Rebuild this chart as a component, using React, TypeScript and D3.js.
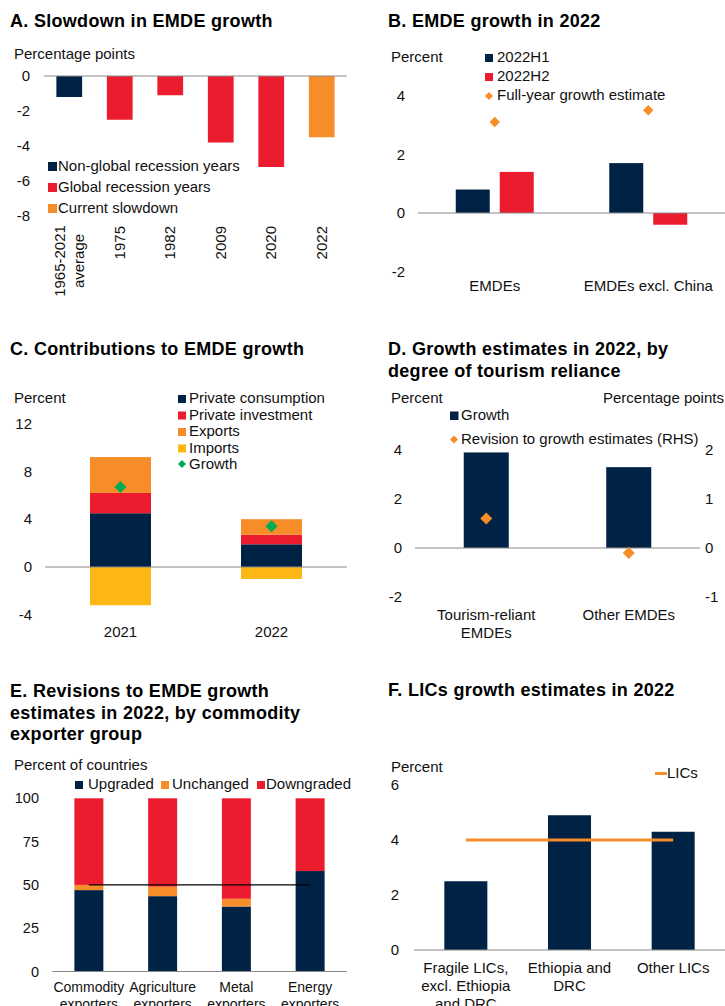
import React from "react";
import * as d3 from "d3";

// colours
const NAVY = "#002345";
const RED = "#EB1C2D";
const ORANGE = "#F78D28";
const YELLOW = "#FDB714";
const GREEN = "#00AB51";
const AXIS = "#8A8A8A";
const FONT = "Arial, 'Liberation Sans', sans-serif";

// A. Slowdown in EMDE growth
const aCategories = ["1965-2021\naverage", "1975", "1982", "2009", "2020", "2022"];
const aValues = [-1.2, -2.5, -1.1, -3.8, -5.2, -3.5];
const aGroup = [0, 1, 1, 1, 1, 2];
const aLegend = ["Non-global recession years", "Global recession years", "Current slowdown"];
const aTicks = [0, -2, -4, -6, -8];

// B. EMDE growth in 2022
const bCategories = ["EMDEs", "EMDEs excl. China"];
const bH1 = [0.8, 1.7];
const bH2 = [1.4, -0.4];
const bFullYear = [3.1, 3.5];
const bTicks = [4, 2, 0, -2];

// C. Contributions to EMDE growth
const cYears = ["2021", "2022"];
const cConsumption = [4.5, 1.9];
const cInvestment = [1.7, 0.8];
const cExports = [3.0, 1.3];
const cImports = [-3.2, -1.0];
const cGrowth = [6.7, 3.4];
const cTicks = [12, 8, 4, 0, -4];

// D. Growth estimates by tourism reliance
const dCategories = ["Tourism-reliant\nEMDEs", "Other EMDEs"];
const dGrowth = [3.9, 3.3];
const dRevision = [0.6, -0.1];
const dTicksLeft = [4, 2, 0, -2];
const dTicksRight = [2, 1, 0, -1];

// E. Revisions by commodity exporter group
const eCategories = ["Commodity\nexporters", "Agriculture\nexporters", "Metal\nexporters", "Energy\nexporters"];
const eUpgraded = [47, 43.5, 37.5, 58];
const eUnchanged = [3, 5.5, 4.5, 0];
const eDowngraded = [50, 51, 58, 42];
const eReference = [50, 50, 50, 50];
const eTicks = [100, 75, 50, 25, 0];

// F. LICs growth estimates
const fCategories = ["Fragile LICs,\nexcl. Ethiopia\nand DRC", "Ethiopia and\nDRC", "Other LICs"];
const fValues = [2.5, 4.9, 4.3];
const fLICs = [4.0, 4.0, 4.0];
const fTicks = [6, 4, 2, 0];

const diamondPath = (r: number) => `M0,${-r}L${r},0L0,${r}L${-r},0Z`;

function Title({ x, y, lines }: { x: number; y: number; lines: string[] }) {
  return (
    <text x={x} y={y} fontSize={18} fontWeight="bold" letterSpacing={0.3} fill="#000">
      {lines.map((l, i) => (
        <tspan key={i} x={x} dy={i === 0 ? 0 : 21.5}>
          {l}
        </tspan>
      ))}
    </text>
  );
}

function Label({ x, y, text, anchor = "middle", step = 18, size = 15 }: any) {
  const lines = String(text).split("\n");
  return (
    <text x={x} y={y} fontSize={size} textAnchor={anchor} fill="#111">
      {lines.map((l, i) => (
        <tspan key={i} x={x} dy={i === 0 ? 0 : step}>
          {l}
        </tspan>
      ))}
    </text>
  );
}

function YTicks({ ticks, scale, x, anchor = "end", size = 15 }: any) {
  return (
    <g>
      {ticks.map((t: number) => (
        <text key={t} x={x} y={scale(t)} dy="0.35em" fontSize={size} textAnchor={anchor} fill="#111">
          {String(t)}
        </text>
      ))}
    </g>
  );
}

function PanelA() {
  const x = d3.scaleBand<string>().domain(aCategories).range([44, 347]).paddingInner(0.49).paddingOuter(0.245);
  const y = d3.scaleLinear().domain([-8, 0]).range([216, 76]);
  const colors = [NAVY, RED, ORANGE];
  return (
    <g>
      <Title x={10} y={27} lines={["A. Slowdown in EMDE growth"]} />
      <Label x={14} y={59} text="Percentage points" anchor="start" />
      <YTicks ticks={aTicks} scale={y} x={30} />
      {aCategories.map((c, i) => (
        <rect key={c} x={x(c)} width={x.bandwidth()} y={y(0)} height={y(aValues[i]) - y(0)} fill={colors[aGroup[i]]} />
      ))}
      <line x1={44} x2={347} y1={y(0)} y2={y(0)} stroke={AXIS} strokeWidth={1.2} />
      {aLegend.map((l, i) => (
        <g key={l}>
          <rect x={48} y={162 + i * 21} width={9} height={9} fill={colors[i]} />
          <text x={58} y={171 + i * 21} fontSize={15} fill="#111">
            {l}
          </text>
        </g>
      ))}
      {aCategories.map((c) => {
        const lines = c.split("\n");
        const cx = (x(c) as number) + x.bandwidth() / 2;
        if (lines.length === 1)
          return (
            <text key={c} transform={`translate(${cx + 5},226) rotate(-90)`} textAnchor="end" fontSize={15} fill="#111">
              {c}
            </text>
          );
        return (
          <text key={c} transform={`translate(${cx - 4},261) rotate(-90)`} textAnchor="middle" fontSize={15} fill="#111">
            {lines.map((l, i) => (
              <tspan key={i} x={0} dy={i === 0 ? 0 : 19}>
                {l}
              </tspan>
            ))}
          </text>
        );
      })}
    </g>
  );
}

function PanelB() {
  const x = d3.scaleBand<string>().domain(bCategories).range([418, 725]);
  const sub = d3.scaleBand<string>().domain(["H1", "H2"]).range([-39, 39]).paddingInner(0.227);
  const y = d3.scaleLinear().domain([-2, 4]).range([271.7, 95.6]);
  const series = [
    { key: "H1", vals: bH1, color: NAVY },
    { key: "H2", vals: bH2, color: RED },
  ];
  return (
    <g>
      <Title x={388} y={27} lines={["B. EMDE growth in 2022"]} />
      <Label x={391} y={62} text="Percent" anchor="start" />
      <YTicks ticks={bTicks} scale={y} x={405} />
      {bCategories.map((c, i) => {
        const cx = (x(c) as number) + x.bandwidth() / 2;
        return (
          <g key={c}>
            {series.map((s) => (
              <rect
                key={s.key}
                x={cx + (sub(s.key) as number)}
                width={sub.bandwidth()}
                y={Math.min(y(0), y(s.vals[i]))}
                height={Math.abs(y(s.vals[i]) - y(0))}
                fill={s.color}
              />
            ))}
            <path d={diamondPath(5.2)} transform={`translate(${cx},${y(bFullYear[i])})`} fill={ORANGE} />
            <Label x={cx} y={291} text={c} />
          </g>
        );
      })}
      <line x1={418} x2={725} y1={y(0)} y2={y(0)} stroke={AXIS} strokeWidth={1.2} />
      <rect x={485} y={54} width={8} height={8} fill={NAVY} />
      <text x={497} y={62} fontSize={15} fill="#111">2022H1</text>
      <rect x={485} y={73} width={8} height={8} fill={RED} />
      <text x={497} y={81} fontSize={15} fill="#111">2022H2</text>
      <path d={diamondPath(4)} transform="translate(489,96)" fill={ORANGE} />
      <text x={497} y={100} fontSize={15} fill="#111">Full-year growth estimate</text>
    </g>
  );
}

function PanelC() {
  const x = d3.scaleBand<string>().domain(cYears).range([45, 347]).paddingInner(0.596).paddingOuter(0.298);
  const y = d3.scaleLinear().domain([-4, 12]).range([614.8, 423.6]);
  const keys = ["consumption", "investment", "exports", "imports"];
  const rows = cYears.map((yr, i) => ({
    year: yr,
    consumption: cConsumption[i],
    investment: cInvestment[i],
    exports: cExports[i],
    imports: cImports[i],
  }));
  const stacked = d3.stack<any>().keys(keys).offset(d3.stackOffsetDiverging)(rows);
  const colors: Record<string, string> = { consumption: NAVY, investment: RED, exports: ORANGE, imports: YELLOW };
  const legend = [
    ["Private consumption", NAVY],
    ["Private investment", RED],
    ["Exports", ORANGE],
    ["Imports", YELLOW],
  ];
  return (
    <g>
      <Title x={10} y={355} lines={["C. Contributions to EMDE growth"]} />
      <Label x={14} y={403} text="Percent" anchor="start" />
      <YTicks ticks={cTicks} scale={y} x={32} />
      {stacked.map((layer) =>
        layer.map((d, i) => (
          <rect
            key={layer.key + i}
            x={x(d.data.year)}
            width={x.bandwidth()}
            y={y(Math.max(d[0], d[1]))}
            height={Math.abs(y(d[0]) - y(d[1]))}
            fill={colors[layer.key]}
          />
        ))
      )}
      <line x1={45} x2={347} y1={y(0)} y2={y(0)} stroke={AXIS} strokeWidth={1.2} />
      {cYears.map((yr, i) => {
        const cx = (x(yr) as number) + x.bandwidth() / 2;
        return (
          <g key={yr}>
            <path d={diamondPath(6)} transform={`translate(${cx},${y(cGrowth[i])})`} fill={GREEN} />
            <Label x={cx} y={637} text={yr} />
          </g>
        );
      })}
      {legend.map(([l, c], i) => (
        <g key={l}>
          <rect x={178} y={395 + i * 16.5} width={8} height={8} fill={c} />
          <text x={189} y={403 + i * 16.5} fontSize={15} fill="#111">
            {l}
          </text>
        </g>
      ))}
      <path d={diamondPath(4)} transform="translate(182,464)" fill={GREEN} />
      <text x={189} y={469} fontSize={15} fill="#111">Growth</text>
    </g>
  );
}

function PanelD() {
  const x = d3.scaleBand<string>().domain(dCategories).range([415, 700]).paddingInner(0.684).paddingOuter(0.342);
  const y = d3.scaleLinear().domain([-2, 4]).range([597, 450]);
  const yR = d3.scaleLinear().domain([-1, 2]).range([597, 450]);
  return (
    <g>
      <Title x={388} y={355} lines={["D. Growth estimates in 2022, by", "degree of tourism reliance"]} />
      <Label x={391} y={403} text="Percent" anchor="start" />
      <Label x={603} y={403} text="Percentage points" anchor="start" />
      <YTicks ticks={dTicksLeft} scale={y} x={402} />
      <YTicks ticks={dTicksRight} scale={yR} x={705} anchor="start" />
      {dCategories.map((c, i) => {
        const cx = (x(c) as number) + x.bandwidth() / 2;
        return (
          <g key={c}>
            <rect x={x(c)} width={x.bandwidth()} y={y(dGrowth[i])} height={y(0) - y(dGrowth[i])} fill={NAVY} />
            <Label x={cx} y={620} text={c} />
          </g>
        );
      })}
      <line x1={415} x2={700} y1={y(0)} y2={y(0)} stroke={AXIS} strokeWidth={1.2} />
      {dCategories.map((c, i) => {
        const cx = (x(c) as number) + x.bandwidth() / 2;
        return <path key={c} d={diamondPath(6)} transform={`translate(${cx},${yR(dRevision[i])})`} fill={ORANGE} />;
      })}
      <rect x={450} y={411.5} width={8.5} height={8.5} fill={NAVY} />
      <text x={461} y={420} fontSize={15} fill="#111">Growth</text>
      <path d={diamondPath(4)} transform="translate(454,439.5)" fill={ORANGE} />
      <text x={461} y={444} fontSize={15} fill="#111">Revision to growth estimates (RHS)</text>
    </g>
  );
}

function PanelE() {
  const x = d3.scaleBand<string>().domain(eCategories).range([52, 347]).paddingInner(0.607).paddingOuter(0.3035);
  const y = d3.scaleLinear().domain([0, 100]).range([971.5, 798.3]);
  const keys = ["up", "un", "down"];
  const rows = eCategories.map((c, i) => ({ cat: c, up: eUpgraded[i], un: eUnchanged[i], down: eDowngraded[i] }));
  const stacked = d3.stack<any>().keys(keys)(rows);
  const colors: Record<string, string> = { up: NAVY, un: ORANGE, down: RED };
  const ref = d3
    .line<number>()
    .x((_, i) => (x(eCategories[i]) as number) + x.bandwidth() / 2)
    .y((d) => y(d));
  return (
    <g>
      <Title x={10} y={697} lines={["E. Revisions to EMDE growth", "estimates in 2022, by commodity", "exporter group"]} />
      <Label x={14} y={770} text="Percent of countries" anchor="start" />
      <YTicks ticks={eTicks} scale={y} x={39} size={14.5} />
      {stacked.map((layer) =>
        layer.map((d, i) => (
          <rect
            key={layer.key + i}
            x={x(d.data.cat)}
            width={x.bandwidth()}
            y={y(d[1])}
            height={y(d[0]) - y(d[1])}
            fill={colors[layer.key]}
          />
        ))
      )}
      <line x1={52} x2={347} y1={y(0)} y2={y(0)} stroke={AXIS} strokeWidth={1.2} />
      <path d={ref(eReference) as string} stroke="#000" strokeWidth={1.2} fill="none" />
      {eCategories.map((c) => (
        <Label key={c} x={(x(c) as number) + x.bandwidth() / 2} y={992} text={c} size={14} step={17} />
      ))}
      <rect x={75} y={781} width={8} height={8} fill={NAVY} />
      <text x={88} y={789} fontSize={15} fill="#111">Upgraded</text>
      <rect x={161} y={781} width={8} height={8} fill={ORANGE} />
      <text x={172} y={789} fontSize={15} fill="#111">Unchanged</text>
      <rect x={257} y={781} width={8} height={8} fill={RED} />
      <text x={266} y={789} fontSize={15} fill="#111">Downgraded</text>
    </g>
  );
}

function PanelF() {
  const x = d3.scaleBand<string>().domain(fCategories).range([414, 725]).paddingInner(0.585).paddingOuter(0.2925);
  const y = d3.scaleLinear().domain([0, 6]).range([950, 785]);
  const lics = d3
    .line<number>()
    .x((_, i) => (x(fCategories[i]) as number) + x.bandwidth() / 2)
    .y((d) => y(d));
  return (
    <g>
      <Title x={388} y={696} lines={["F. LICs growth estimates in 2022"]} />
      <Label x={391} y={772} text="Percent" anchor="start" />
      <YTicks ticks={fTicks} scale={y} x={399} />
      {fCategories.map((c, i) => (
        <g key={c}>
          <rect x={x(c)} width={x.bandwidth()} y={y(fValues[i])} height={y(0) - y(fValues[i])} fill={NAVY} />
          <Label x={(x(c) as number) + x.bandwidth() / 2} y={973} text={c} />
        </g>
      ))}
      <line x1={414} x2={725} y1={y(0)} y2={y(0)} stroke={AXIS} strokeWidth={1.2} />
      <path d={lics(fLICs) as string} stroke={ORANGE} strokeWidth={3} fill="none" />
      <line x1={655} x2={667} y1={773.5} y2={773.5} stroke={ORANGE} strokeWidth={3} />
      <text x={667} y={778} fontSize={15} fill="#111">LICs</text>
    </g>
  );
}

export default function App() {
  return (
    <svg
      width={725}
      height={1006}
      style={{ position: "absolute", left: 0, top: 0, background: "#fff" }}
      fontFamily={FONT}
    >
      <rect width={725} height={1006} fill="#fff" />
      <PanelA />
      <PanelB />
      <PanelC />
      <PanelD />
      <PanelE />
      <PanelF />
    </svg>
  );
}
